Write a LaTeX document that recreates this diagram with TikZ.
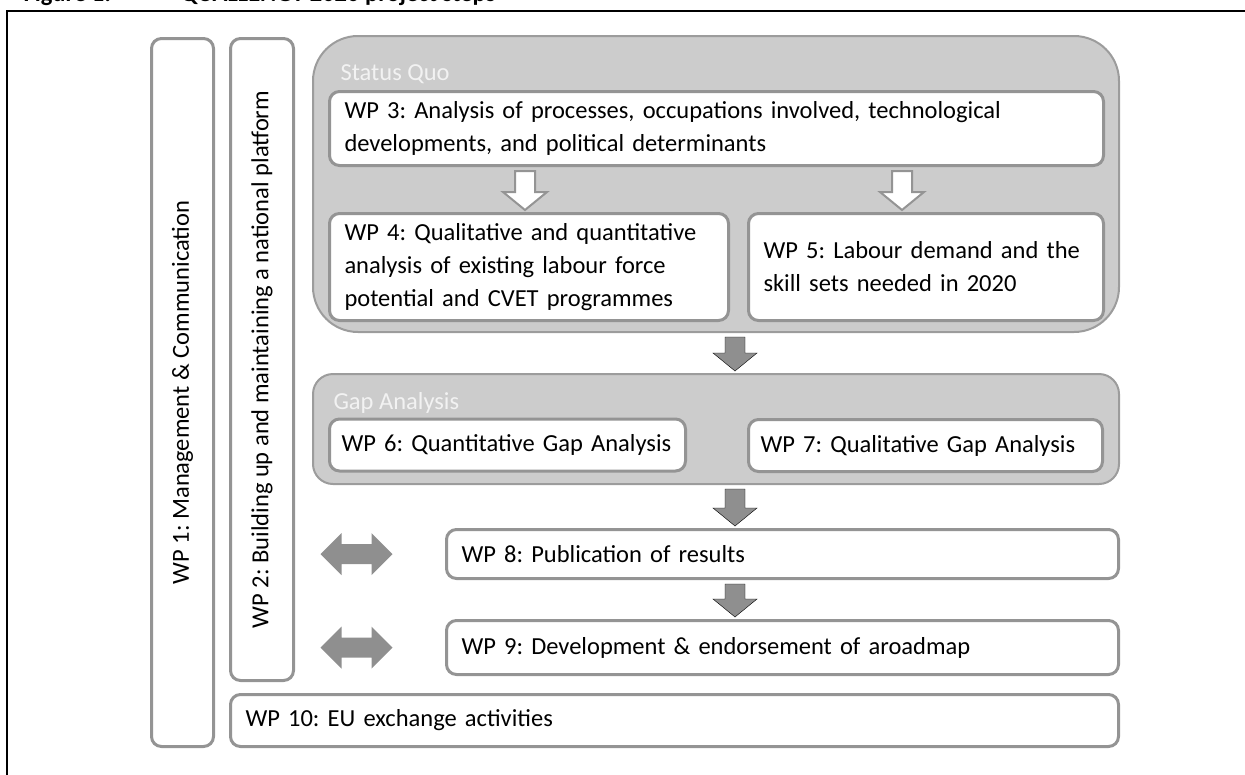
\documentclass[tikz,border=0pt]{standalone}
\usepackage{fontspec}
\setmainfont{Carlito}
\usetikzlibrary{calc}
\definecolor{boxline}{HTML}{949494}
\definecolor{panelfill}{HTML}{CCCCCC}
\definecolor{panelline}{HTML}{9C9C9C}
\definecolor{arrowfill}{HTML}{8F8F8F}
\frenchspacing
\hyphenpenalty=10000
\exhyphenpenalty=10000
\newcommand{\wpfont}{\fontsize{24.5}{33}\selectfont}
\newcommand{\downarr}[4] % from node, to node, column, style
{
	\draw[#4] ($(#1.south -| #3)+(-10,4)$) -- ($(#2.north -| #3)+(-10,-20)$) -- ++(-12,0)
		-- ($(#2.north -| #3)+(0,-2)$) -- ($(#2.north -| #3)+(22,-20)$) -- ++(-12,0)
		-- ($(#1.south -| #3)+(10,4)$) -- cycle;
}
\newcommand{\bothways}[3] % left node, right node, name of middle point
{
	\coordinate (#3) at ($(#1.east |- #2.west)!0.5!(#2.west)+(3,0)$);
	\fill[arrowfill] ($(#3)+(-36,0)$) -- ++(21,-21) -- ++(0,11) -- ++(30,0) -- ++(0,-11)
		-- ++(21,21) -- ++(-21,21) -- ++(0,-11) -- ++(-30,0) -- ++(0,11) -- cycle;
}
\tikzset{
	wpbox/.style={draw=boxline, line width=3pt, fill=white, rounded corners=10pt, align=left, inner xsep=15pt},
	panel/.style={draw=panelline, line width=2pt, fill=panelfill},
	panellabel/.style={anchor=base west, text=white!95!black},
	hollowarr/.style={draw=boxline, line width=2pt, fill=white},
	fullarr/.style={fill=arrowfill}
}
\begin{document}
\begin{tikzpicture}[x=1pt, y=-1pt, font=\wpfont]
	% page 1245 x 774 px, 1px = 1pt, y downwards
	\useasboundingbox (0,0) rectangle (1245,774);
	% caption, cut at the top of the page
	\node[anchor=base west, font=\wpfont\bfseries] (figno) at (20,1) {Figure 1:};
	\node[anchor=base west, font=\wpfont\bfseries] (title) at (177,1) {QUALLENGY 2020 project steps};
	\draw[line width=2pt] (7,780) -- (7,11) -- (1250,11);
	
	% side columns
	\node[wpbox, rotate=90, minimum width=708pt, minimum height=62pt, align=center] (wp1) at (182.5,392.5) {WP 1: Management \& Communication};
	\node[wpbox, rotate=90, minimum width=642pt, minimum height=63pt, align=center] (wp2) at (262,359.5) {WP 2: Building up and maintaining a national platform};
	
	% status quo
	\node[panel, rounded corners=45pt, minimum width=806pt, minimum height=296pt] (status) at (716,184) {};
	\node[panellabel] (statuslbl) at (337,80) {Status Quo};
	\node[wpbox, minimum width=774pt, minimum height=74pt, text width=744pt] (wp3) at (716.5,128.5)
		{WP 3: Analysis of processes, occupations involved, technological\\developments, and political determinants};
	\node[wpbox, minimum width=399pt, minimum height=107pt, text width=369pt] (wp4) at (529,267)
		{WP 4: Qualitative and quantitative\\analysis of existing labour force\\potential and CVET programmes};
	\node[wpbox, minimum width=355pt, minimum height=107pt, text width=325pt] (wp5) at (926,267)
		{WP 5: Labour demand and the\\skill sets needed in 2020};
	\coordinate (lcol) at (525,0);
	\coordinate (rcol) at (902,0);
	\downarr{wp3}{wp4}{lcol}{hollowarr}
	\downarr{wp3}{wp5}{rcol}{hollowarr}
	
	% gap analysis
	\node[panel, rounded corners=20pt, minimum width=806pt, minimum height=110pt] (gap) at (716,429) {};
	\node[panellabel] (gaplbl) at (330,409) {Gap Analysis};
	\node[wpbox, inner xsep=12pt, minimum width=356pt, minimum height=52pt, text width=332pt] (wp6) at (507.5,445) {WP 6: Quantitative Gap Analysis};
	\node[wpbox, inner xsep=12pt, minimum width=354pt, minimum height=52pt, text width=330pt] (wp7) at (925.5,445.5) {WP 7: Qualitative Gap Analysis};
	
	% results
	\node[wpbox, minimum width=672pt, minimum height=49pt, text width=642pt] (wp8) at (782.5,554) {WP 8: Publication of results};
	\node[wpbox, minimum width=672pt, minimum height=54pt, text width=642pt] (wp9) at (782.5,647.5) {WP 9: Development \& endorsement of aroadmap};
	\node[wpbox, minimum width=888pt, minimum height=52pt, text width=858pt] (wp10) at (674.5,720.5) {WP 10: EU exchange activities};
	
	\coordinate (mcol) at (735,0);
	\downarr{status}{gap}{mcol}{fullarr}
	\downarr{gap}{wp8}{mcol}{fullarr}
	\downarr{wp8}{wp9}{mcol}{fullarr}
	
	\bothways{wp2}{wp8}{mideight}
	\bothways{wp2}{wp9}{midnine}
\end{tikzpicture}
\end{document}
